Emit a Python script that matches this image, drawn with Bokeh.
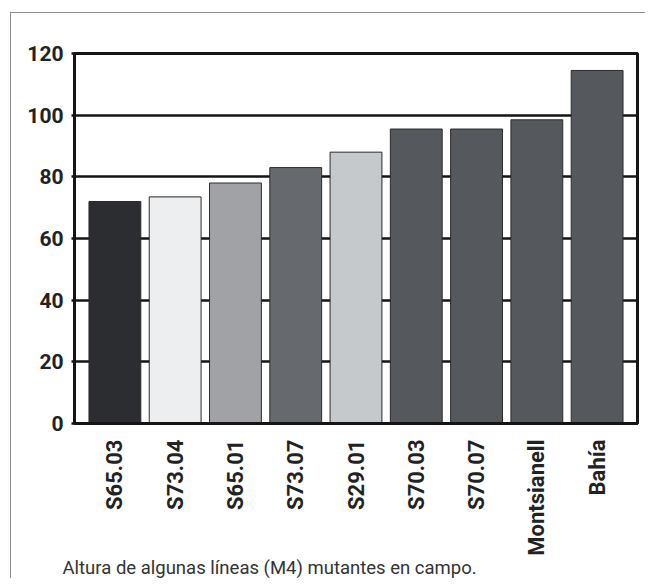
import math
from bokeh.plotting import figure
from bokeh.models import FactorRange, Range1d, FixedTicker, ColumnDataSource, Title
from bokeh.embed import file_html
from bokeh.resources import INLINE

# ---- data ----
lines = ["S65.03", "S73.04", "S65.01", "S73.07", "S29.01", "S70.03", "S70.07", "Montsianell", "Bahía"]
heights = [72, 73.5, 78, 83, 88, 95.5, 95.5, 98.5, 114.5]
bar_colors = ["#2b2d30", "#eceef0", "#a0a2a5", "#66696d", "#c6c9cc",
              "#55585c", "#55585c", "#55585c", "#55585c"]
y_ticks = [0, 20, 40, 60, 80, 100, 120]
caption = "Altura de algunas líneas (M4) mutantes en campo."

source = ColumnDataSource(data=dict(line=lines, height=heights, color=bar_colors))

p = figure(
    x_range=FactorRange(factors=lines, range_padding=0.0378, range_padding_units="percent"),
    y_range=Range1d(0, 120),
    frame_width=563, frame_height=370,
    min_border_left=63, min_border_right=8, min_border_top=40, min_border_bottom=155,
    output_backend="svg", toolbar_location=None,
)
p.margin = (12, 0, 0, 10)
p.styles = {"border-left": "1px solid #8c8c8c", "border-top": "1px solid #8c8c8c"}

p.vbar(x="line", top="height", width=0.86, bottom=0, source=source,
       fill_color="color", line_color="#2a2a2a", line_width=1)

# grid
p.xgrid.grid_line_color = None
p.ygrid.ticker = FixedTicker(ticks=y_ticks)
p.ygrid.grid_line_color = "#151515"
p.ygrid.grid_line_width = 2.5
p.ygrid.level = "underlay"

p.outline_line_color = "#151515"
p.outline_line_width = 3
p.outline_line_alpha = 1.0

# y axis
p.yaxis.ticker = FixedTicker(ticks=y_ticks)
p.yaxis.axis_line_color = "#151515"
p.yaxis.axis_line_width = 3
p.yaxis.major_tick_line_color = "#151515"
p.yaxis.major_tick_line_width = 2.5
p.yaxis.major_tick_out = 3
p.yaxis.major_tick_in = 0
p.yaxis.minor_tick_line_color = None
p.yaxis.major_label_standoff = 8
p.yaxis.major_label_text_font = "Roboto"
p.yaxis.major_label_text_font_style = "bold"
p.yaxis.major_label_text_font_size = "21px"
p.yaxis.major_label_text_color = "#222222"

# x axis
p.xaxis.axis_line_color = "#151515"
p.xaxis.axis_line_width = 3
p.xaxis.major_tick_line_color = None
p.xaxis.major_tick_out = 0
p.xaxis.major_tick_in = 0
p.xaxis.major_label_orientation = math.pi / 2
p.xaxis.major_label_standoff = 16
p.xaxis.major_label_text_font = "Roboto"
p.xaxis.major_label_text_font_style = "bold"
p.xaxis.major_label_text_font_size = "22px"
p.xaxis.major_label_text_color = "#222222"

# caption
p.add_layout(Title(text=caption, align="left", offset=-12, standoff=-7,
                   text_font="Roboto", text_font_style="normal", text_font_size="18.5px",
                   text_color="#333333"), "below")

open("out.html", "w").write(file_html(p, INLINE))
